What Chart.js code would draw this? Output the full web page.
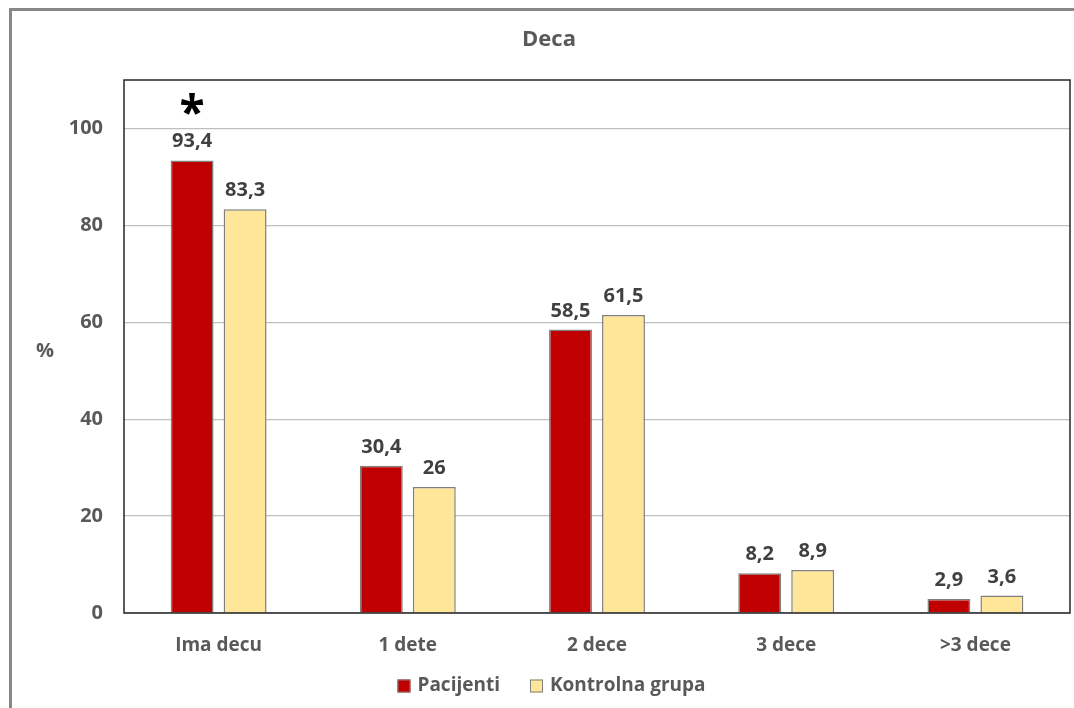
<!DOCTYPE html>
<html>
<head>
<meta charset="utf-8">
<title>Deca</title>
<script src="https://cdn.jsdelivr.net/npm/chart.js@4.4.1/dist/chart.umd.min.js"></script>
<style>
    html, body { margin: 0; padding: 0; background: #ffffff; }
    #wrap { width: 1074px; height: 708px; position: relative; }
</style>
</head>
<body>
<div id="wrap"><canvas id="decaChart"></canvas></div>
<script>
const categories = ['Ima decu', '1 dete', '2 dece', '3 dece', '>3 dece'];
const pacijenti = [93.4, 30.4, 58.5, 8.2, 2.9];
const kontrolna = [83.3, 26, 61.5, 8.9, 3.6];
const yTicks = [0, 20, 40, 60, 80, 100];
const significant = [true, false, false, false, false]; // marked with *

const FONT = '"Open Sans", sans-serif';

function fmt(v) {
    return String(v).replace('.', ',');
}

// frame, plot border, title, % label, value labels, asterisks and legend
const decorations = {
    id: 'decorations',
    beforeDraw(chart) {
        const ctx = chart.ctx;
        ctx.save();
        ctx.fillStyle = '#ffffff';
        ctx.fillRect(0, 0, chart.width, chart.height);
        ctx.restore();
    },
    afterDatasetsDraw(chart) {
        const ctx = chart.ctx;
        const a = chart.chartArea;
        ctx.save();

        // outer frame (left + top)
        ctx.strokeStyle = '#878787';
        ctx.lineWidth = 3;
        ctx.beginPath();
        ctx.moveTo(10.5, chart.height);
        ctx.lineTo(10.5, 9.5);
        ctx.lineTo(chart.width, 9.5);
        ctx.stroke();

        // plot area border
        ctx.strokeStyle = '#262626';
        ctx.lineWidth = 1.5;
        ctx.strokeRect(a.left, a.top, a.right - a.left, a.bottom - a.top);

        // title
        ctx.fillStyle = '#595959';
        ctx.font = 'bold 22px ' + FONT;
        ctx.textAlign = 'center';
        ctx.textBaseline = 'middle';
        ctx.fillText('Deca', 549, 40);

        // y axis unit
        ctx.font = 'bold 20px ' + FONT;
        ctx.fillText('%', 45, 351);

        // value labels
        ctx.fillStyle = '#404040';
        ctx.font = 'bold 20px ' + FONT;
        ctx.textBaseline = 'alphabetic';
        chart.data.datasets.forEach((ds, di) => {
            chart.getDatasetMeta(di).data.forEach((bar, i) => {
                ctx.fillText(fmt(ds.data[i]), bar.x, bar.y - 13);
            });
        });

        // significance marks
        ctx.fillStyle = '#000000';
        ctx.font = 'bold 46px ' + FONT;
        const meta0 = chart.getDatasetMeta(0);
        significant.forEach((s, i) => {
            if (!s) return;
            const bar = meta0.data[i];
            ctx.fillText('*', bar.x, bar.y - 31);
        });

        // legend
        ctx.font = 'bold 19px ' + FONT;
        ctx.textAlign = 'left';
        ctx.textBaseline = 'middle';
        const box = 13, boxGap = 7, itemGap = 30, ly = 686;
        const items = chart.data.datasets.map(ds => ({
            label: ds.label,
            color: ds.backgroundColor,
            w: box + boxGap + ctx.measureText(ds.label).width
        }));
        const total = items.reduce((s, it) => s + it.w, 0) + itemGap * (items.length - 1);
        let x = 551.5 - total / 2;
        items.forEach(it => {
            ctx.fillStyle = it.color;
            ctx.fillRect(x, ly - box / 2, box, box);
            ctx.strokeStyle = '#7F7F7F';
            ctx.lineWidth = 1;
            ctx.strokeRect(x + 0.5, ly - box / 2 + 0.5, box - 1, box - 1);
            ctx.fillStyle = '#595959';
            ctx.fillText(it.label, x + box + boxGap, ly);
            x += it.w + itemGap;
        });

        ctx.restore();
    }
};

new Chart(document.getElementById('decaChart'), {
    type: 'bar',
    data: {
        labels: categories,
        datasets: [{
            label: 'Pacijenti',
            data: pacijenti,
            backgroundColor: '#C00000',
            borderColor: '#7F7F7F',
            borderWidth: 1.5,
            barPercentage: 0.81,
            categoryPercentage: 0.56
        }, {
            label: 'Kontrolna grupa',
            data: kontrolna,
            backgroundColor: '#FFE699',
            borderColor: '#7F7F7F',
            borderWidth: 1.5,
            barPercentage: 0.81,
            categoryPercentage: 0.56
        }]
    },
    options: {
        responsive: true,
        maintainAspectRatio: false,
        animation: false,
        layout: {
            padding: { left: 0, right: 4, top: 80, bottom: 45 }
        },
        scales: {
            x: {
                grid: { display: false, drawTicks: false },
                border: { display: false },
                ticks: {
                    color: '#595959',
                    font: { family: FONT, size: 19, weight: 'bold' },
                    padding: 21
                },
                afterFit(scale) { scale.height = 50; }
            },
            y: {
                min: 0,
                max: 110,
                grid: { color: '#BFBFBF', lineWidth: 1.2, drawTicks: false },
                border: { display: false },
                ticks: {
                    stepSize: 20,
                    color: '#595959',
                    font: { family: FONT, size: 20, weight: 'bold' },
                    padding: 21
                },
                afterBuildTicks(scale) {
                    scale.ticks = yTicks.map(v => ({ value: v }));
                },
                afterFit(scale) { scale.width = 124; }
            }
        },
        plugins: {
            legend: { display: false },
            title: { display: false },
            tooltip: { enabled: false }
        }
    },
    plugins: [decorations]
});
</script>
</body>
</html>
